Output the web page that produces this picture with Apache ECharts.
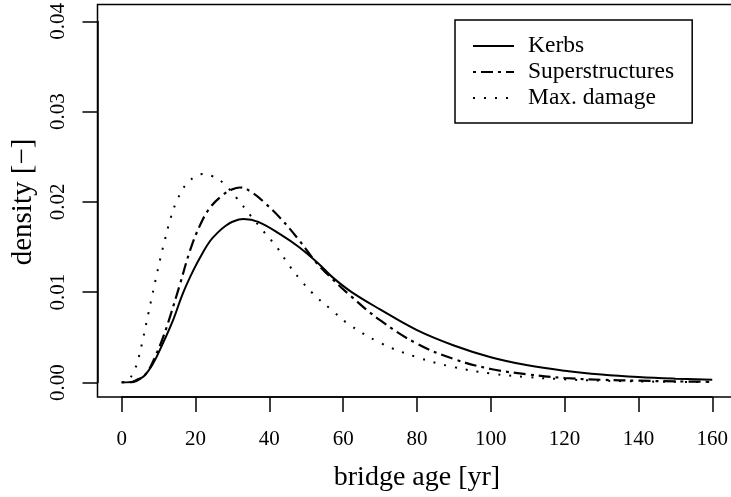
<!DOCTYPE html>
<html>
<head>
<meta charset="utf-8">
<script src="https://cdn.jsdelivr.net/npm/echarts@6/dist/echarts.min.js"></script>
<style>
html,body{margin:0;padding:0;background:#fff;}
#c{width:731px;height:497px;}
</style>
</head>
<body>
<div id="c"></div>
<script>
// ---- data ----
const seriesNames = ["Kerbs", "Superstructures", "Max. damage"];
const xTicks = [0, 20, 40, 60, 80, 100, 120, 140, 160];
const yTicks = [0.00, 0.01, 0.02, 0.03, 0.04];

const kerbsAge = [0, 2, 3, 4, 6, 8.5, 11, 14, 16.5, 19.5, 22, 24, 26, 28, 30, 33, 37, 43, 48, 53.5, 57, 62, 70, 80, 90, 100, 110, 120, 130, 140, 150, 160];
const kerbsDensity = [0, 0.00003, 0.0001, 0.0003, 0.0007, 0.0021, 0.0042, 0.0070, 0.0098, 0.0125, 0.0144, 0.0157, 0.0166, 0.0173, 0.0178, 0.0181, 0.0178, 0.0164, 0.0150, 0.0131, 0.0117, 0.0101, 0.0081, 0.0058, 0.0041, 0.0028, 0.0019, 0.0013, 0.00088, 0.0006, 0.00042, 0.0003];

const superAge = [0, 3, 5, 7, 9, 11.2, 13.1, 15.8, 18.5, 21.2, 24, 27.5, 30, 32, 35.5, 39, 43, 48, 52.5, 57, 62, 70, 80, 90, 100, 110, 120, 130, 140, 150, 160];
const superDensity = [0, 0.00005, 0.0004, 0.0012, 0.0028, 0.0050, 0.0073, 0.0109, 0.0146, 0.0174, 0.0194, 0.0208, 0.0214, 0.0216, 0.0210, 0.0198, 0.0182, 0.0158, 0.0134, 0.0115, 0.0096, 0.0069, 0.0043, 0.0026, 0.0015, 0.0009, 0.0005, 0.0003, 0.0002, 0.00012, 0.00008];

const maxAge = [0, 1.5, 2.2, 3.6, 4.5, 5.8, 7.2, 8.3, 9.3, 10.5, 11.7, 12.9, 14.7, 17.5, 20, 22, 24.8, 27.5, 31, 34.7, 38.3, 42, 45.5, 49, 52.7, 57, 61, 70, 80, 90, 100, 110, 120, 130, 140, 150, 160];
const maxDensity = [0, 0.0001, 0.0004, 0.0015, 0.0026, 0.0049, 0.0076, 0.0097, 0.0116, 0.0138, 0.0158, 0.0177, 0.0199, 0.0220, 0.0228, 0.0231, 0.0228, 0.0221, 0.0205, 0.0186, 0.0168, 0.0150, 0.0129, 0.0111, 0.0095, 0.0080, 0.0066, 0.0044, 0.0028, 0.0017, 0.0010, 0.0006, 0.00035, 0.0002, 0.00012, 0.00007, 0.00004];

// ---- chart ----
const FONT = "Liberation Serif";
const pairs = (xs, ys) => xs.map((x, i) => [x, ys[i]]);
const chart = echarts.init(document.getElementById('c'), null, {renderer: 'canvas'});

const option = {
  animation: false,
  backgroundColor: '#ffffff',
  textStyle: {fontFamily: FONT, color: '#000'},
  grid: {left: 121.7, right: 17.3, top: 19, bottom: 114.3, containLabel: false},
  xAxis: {
    type: 'value', min: xTicks[0], max: xTicks[xTicks.length - 1], interval: 20,
    offset: 14.5,
    name: 'bridge age [yr]', nameLocation: 'middle', nameGap: 67,
    nameTextStyle: {fontFamily: FONT, fontSize: 28, color: '#000'},
    axisLine: {show: true, onZero: false, lineStyle: {color: '#000', width: 1.5}},
    axisTick: {show: true, inside: false, length: 15, lineStyle: {color: '#000', width: 1.5}},
    axisLabel: {fontFamily: FONT, fontSize: 21, color: '#000', margin: 32, showMinLabel: true, showMaxLabel: true},
    splitLine: {show: false}
  },
  yAxis: {
    type: 'value', min: yTicks[0], max: yTicks[yTicks.length - 1], interval: 0.01,
    offset: 24.2,
    name: 'density [−]', nameLocation: 'middle', nameGap: 60, nameRotate: 90,
    nameTextStyle: {fontFamily: FONT, fontSize: 29, color: '#000'},
    axisLine: {show: true, onZero: false, lineStyle: {color: '#000', width: 1.5}},
    axisTick: {show: true, inside: false, length: 15, lineStyle: {color: '#000', width: 1.5}},
    axisLabel: {fontFamily: FONT, fontSize: 21, color: '#000', rotate: 90, margin: 39, align: 'center', verticalAlign: 'middle',
      formatter: v => v.toFixed(2), showMinLabel: true, showMaxLabel: true},
    splitLine: {show: false}
  },
  legend: {
    orient: 'vertical', left: 455, top: 20,
    padding: [13, 18, 12, 17],
    itemWidth: 41, itemHeight: 14, itemGap: 0,
    borderColor: '#000', borderWidth: 1.5, backgroundColor: '#fff',
    itemStyle: {opacity: 0},
    textStyle: {fontFamily: FONT, fontSize: 23.5, color: '#000', lineHeight: 26, padding: [0, 0, 0, 9]},
    data: seriesNames
  },
  graphic: [{
    type: 'rect', silent: true, z: 100,
    shape: {x: 97.5, y: 4.5, width: 640, height: 392.5},
    style: {fill: 'none', stroke: '#000', lineWidth: 1.5}
  }],
  series: [
    {name: seriesNames[0], type: 'line', data: pairs(kerbsAge, kerbsDensity), smooth: 0.4, showSymbol: false, symbol: 'none',
      lineStyle: {color: '#000', width: 2, type: 'solid'}, itemStyle: {color: '#000'}},
    {name: seriesNames[1], type: 'line', data: pairs(superAge, superDensity), smooth: 0.4, showSymbol: false, symbol: 'none',
      lineStyle: {color: '#000', width: 2.2, type: [3, 5, 12, 5]}, itemStyle: {color: '#000'}},
    {name: seriesNames[2], type: 'line', data: pairs(maxAge, maxDensity), smooth: 0.4, showSymbol: false, symbol: 'none',
      lineStyle: {color: '#000', width: 2, type: [2, 9]}, itemStyle: {color: '#000'}}
  ]
};
chart.setOption(option);
</script>
</body>
</html>
